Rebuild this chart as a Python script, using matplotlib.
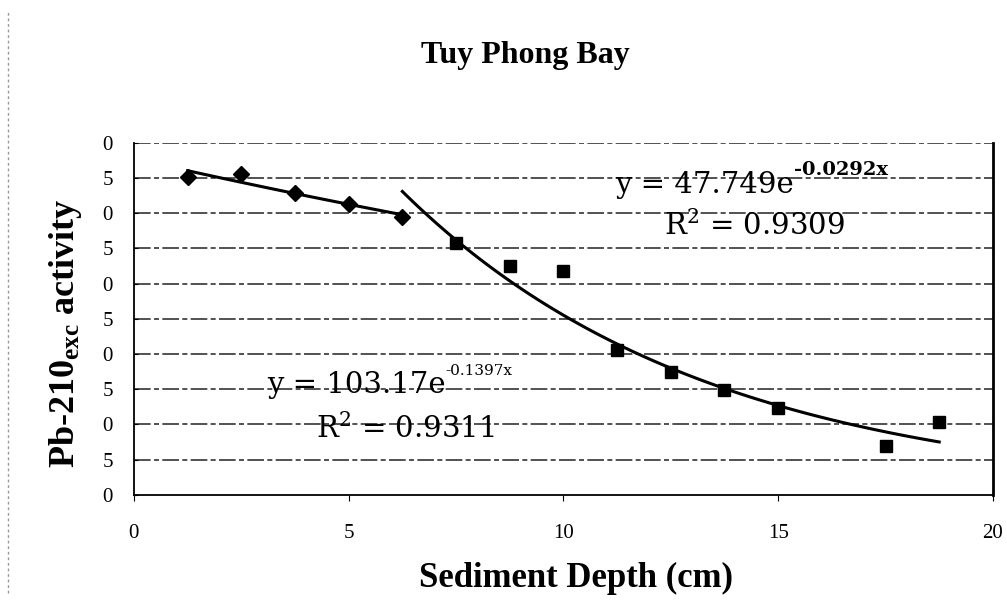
import matplotlib
matplotlib.use("Agg")
import matplotlib.pyplot as plt
import matplotlib.lines as lines
import numpy as np

# data
depth_upper = [1.25, 2.5, 3.75, 5.0, 6.25]
pb_upper = [45.1, 45.5, 42.8, 41.3, 39.5]

depth_lower = [7.5, 8.75, 10.0, 11.25, 12.5, 13.75, 15.0, 17.5, 18.75]
pb_lower = [35.7, 32.5, 31.8, 20.6, 17.4, 14.9, 12.3, 7.0, 10.3]

# exponential trendlines as printed on the chart
fit_upper = (47.749, -0.0292, 0.9309)
fit_lower = (103.17, -0.1397, 0.9311)

x_ticks = [0, 5, 10, 15, 20]
y_ticks = [0, 5, 10, 15, 20, 25, 30, 35, 40, 45, 50]
# the scan crops the y labels down to their last digit
y_tick_labels = ["0", "5", "0", "5", "0", "5", "0", "5", "0", "5", "0"]

plt.rcParams["font.family"] = ["Liberation Serif", "DejaVu Serif"]
plt.rcParams["mathtext.fontset"] = "dejavuserif"
plt.rcParams["mathtext.default"] = "regular"

fig = plt.figure(figsize=(10.07, 6.05), dpi=100)
ax = fig.add_axes([0.133, 0.182, 0.853, 0.582])

ax.set_xlim(0, 20)
ax.set_ylim(0, 50)
ax.set_xticks(x_ticks)
ax.set_xticklabels([str(t) for t in x_ticks])
ax.set_yticks(y_ticks)
ax.set_yticklabels(y_tick_labels)

# dash-dot looking gridlines
for yv in y_ticks[1:]:
    ax.axhline(yv, color="#333333", lw=1.2, ls=(0, (10, 2, 3, 2)), zorder=1)

ax.spines["top"].set_visible(False)
ax.spines["left"].set_linewidth(1.3)
ax.spines["bottom"].set_linewidth(1.3)
ax.spines["right"].set_linewidth(2.0)

ax.tick_params(axis="x", direction="out", length=4, pad=17, labelsize=15)
ax.tick_params(axis="y", direction="in", length=3, pad=15, labelsize=15)

# points
ax.plot(depth_upper, pb_upper, ls="none", marker="D", ms=8, color="black", zorder=3)
ax.plot(depth_lower, pb_lower, ls="none", marker="s", ms=8, color="black", zorder=3)

# trendlines
xa = np.linspace(depth_upper[0], depth_upper[-1], 50)
ax.plot(xa, fit_upper[0] * np.exp(fit_upper[1] * xa), color="black", lw=2.2, zorder=2)
xb = np.linspace(depth_upper[-1], depth_lower[-1], 100)
ax.plot(xb, fit_lower[0] * np.exp(fit_lower[1] * xb), color="black", lw=2.2, zorder=2)

# trendline labels: base text plus a hand-placed exponent (keeps the plain hyphen)
t1 = ax.text(11.2, 42.9, "y = %.3fe" % fit_upper[0], family="DejaVu Serif", size=21,
             ha="left", va="baseline", zorder=4)
ax.annotate("%.4fx" % fit_upper[1], xy=(1, 0), xycoords=t1, xytext=(0, 14),
            textcoords="offset points", family="DejaVu Serif", size=14,
            fontweight="bold", ha="left", va="bottom", zorder=4)
ax.text(14.44, 36.85, "R$^{2}$ = %.4f" % fit_upper[2], family="DejaVu Serif", size=21,
        ha="center", va="baseline", zorder=4)

t2 = ax.text(3.1, 14.5, "y = %.2fe" % fit_lower[0], family="DejaVu Serif", size=21,
             ha="left", va="baseline", zorder=4)
ax.annotate("%.4fx" % fit_lower[1], xy=(1, 0), xycoords=t2, xytext=(0, 15),
            textcoords="offset points", family="DejaVu Serif", size=11,
            ha="left", va="bottom", zorder=4)
ax.text(6.33, 8.1, "R$^{2}$ = %.4f" % fit_lower[2], family="DejaVu Serif", size=21,
        ha="center", va="baseline", zorder=4)

ax.set_xlabel("Sediment Depth (cm)", fontsize=25, fontweight="bold")
ax.xaxis.set_label_coords(0.515, -0.19)
ax.set_ylabel("Pb-210$_{exc}$ activity", fontsize=26, fontweight="bold")
ax.yaxis.set_label_coords(-0.058, 0.46)

fig.text(0.522, 1 - 55 / 605, "Tuy Phong Bay", fontsize=23, fontweight="bold",
         ha="center", va="center")

# faint dotted border left over from the scan
fig.add_artist(lines.Line2D([0.008, 0.008], [0.02, 0.98], transform=fig.transFigure,
                            color="#999999", lw=1, ls=(0, (2, 2))))

plt.savefig("out.png", dpi=100)
